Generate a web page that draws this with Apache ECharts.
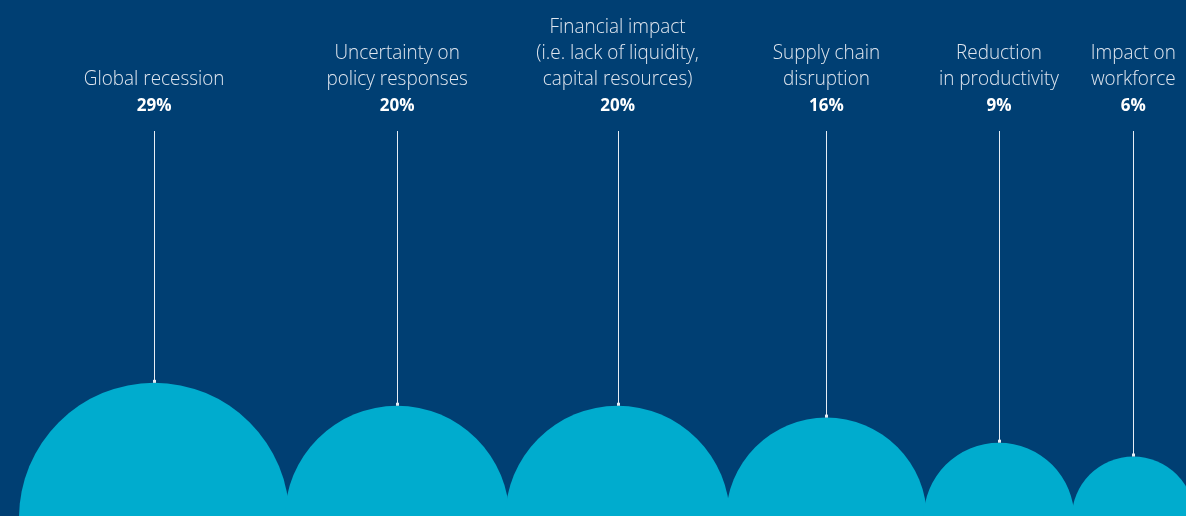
<!DOCTYPE html>
<html>
<head>
<meta charset="utf-8">
<title>Biggest concerns</title>
<script src="https://cdn.jsdelivr.net/npm/echarts@6/dist/echarts.min.js"></script>
<style>
  html, body { margin: 0; padding: 0; background: #003f73; }
  #chart { width: 1186px; height: 516px; }
</style>
</head>
<body>
<div id="chart"></div>
<script>
// Concerns and the share of respondents naming each one (%)
const categories = [
  'Global recession',
  'Uncertainty on\npolicy responses',
  'Financial impact\n(i.e. lack of liquidity,\ncapital resources)',
  'Supply chain\ndisruption',
  'Reduction\nin productivity',
  'Impact on\nworkforce'
];
const shares = [29, 20, 20, 16, 9, 6];

// Layout: the grid fills the canvas and one axis unit is one pixel
const WIDTH = 1186, HEIGHT = 516;
const RADIUS_PER_ROOT = 25.1;   // circle area is proportional to the share
const BASE_Y = -2;              // circle centres sit just under the bottom edge
const FIRST_LEFT = 19;          // free space left of the first circle
const PACKING = 0.982;          // neighbouring circles overlap slightly
const LABEL_BOTTOM = 92;        // bottom of the concern name block
const PCT_MIDDLE = 106;         // middle of the percentage line
const LEADER_TOP = 131;         // top of the leader lines

const BG = '#003f73';
const BUBBLE = '#00acce';
const NAME_COLOR = '#dfe6ef';

const radii = shares.map(v => RADIUS_PER_ROOT * Math.sqrt(v));
const centres = [];
radii.forEach((r, i) => {
  centres.push(i === 0 ? FIRST_LEFT + r : centres[i - 1] + (radii[i - 1] + r) * PACKING);
});

const seriesData = shares.map((v, i) => [centres[i], BASE_Y, radii[i], v]);

function renderBubble(params, api) {
  const i = params.dataIndex;
  const c = api.coord([api.value(0), api.value(1)]);
  const r = api.size([api.value(2), 0])[0];
  const topY = c[1] - r;
  const lx = Math.round(c[0]) + 0.5;
  return {
    type: 'group',
    children: [
      { type: 'circle', shape: { cx: c[0], cy: c[1], r: r }, style: { fill: BUBBLE } },
      { type: 'line', shape: { x1: lx, y1: LEADER_TOP, x2: lx, y2: topY - 1 },
        style: { stroke: '#e6edf5', lineWidth: 1 } },
      { type: 'rect', shape: { x: lx - 1.5, y: topY - 3, width: 3, height: 3 },
        style: { fill: '#e6edf5' } },
      { type: 'text', x: c[0], y: LABEL_BOTTOM, scaleX: 0.9,
        style: { text: categories[i], x: 0, y: 0, align: 'center', verticalAlign: 'bottom',
                 fill: NAME_COLOR, fontFamily: '"Open Sans", Lato, sans-serif',
                 fontWeight: 300, fontSize: 21, lineHeight: 26 } },
      { type: 'text', x: c[0], y: PCT_MIDDLE,
        style: { text: api.value(3) + '%', x: 0, y: 0, align: 'center', verticalAlign: 'middle',
                 fill: '#ffffff', fontFamily: '"Open Sans", Lato, sans-serif',
                 fontWeight: 'bold', fontSize: 17 } }
    ]
  };
}

const chart = echarts.init(document.getElementById('chart'), null, { renderer: 'canvas' });
chart.setOption({
  backgroundColor: BG,
  animation: false,
  grid: { left: 0, right: 0, top: 0, bottom: 0 },
  xAxis: { type: 'value', min: 0, max: WIDTH, show: false },
  yAxis: { type: 'value', min: 0, max: HEIGHT, show: false },
  tooltip: { show: false },
  series: [{
    type: 'custom',
    coordinateSystem: 'cartesian2d',
    clip: false,
    renderItem: renderBubble,
    data: seriesData
  }]
});
</script>
</body>
</html>
